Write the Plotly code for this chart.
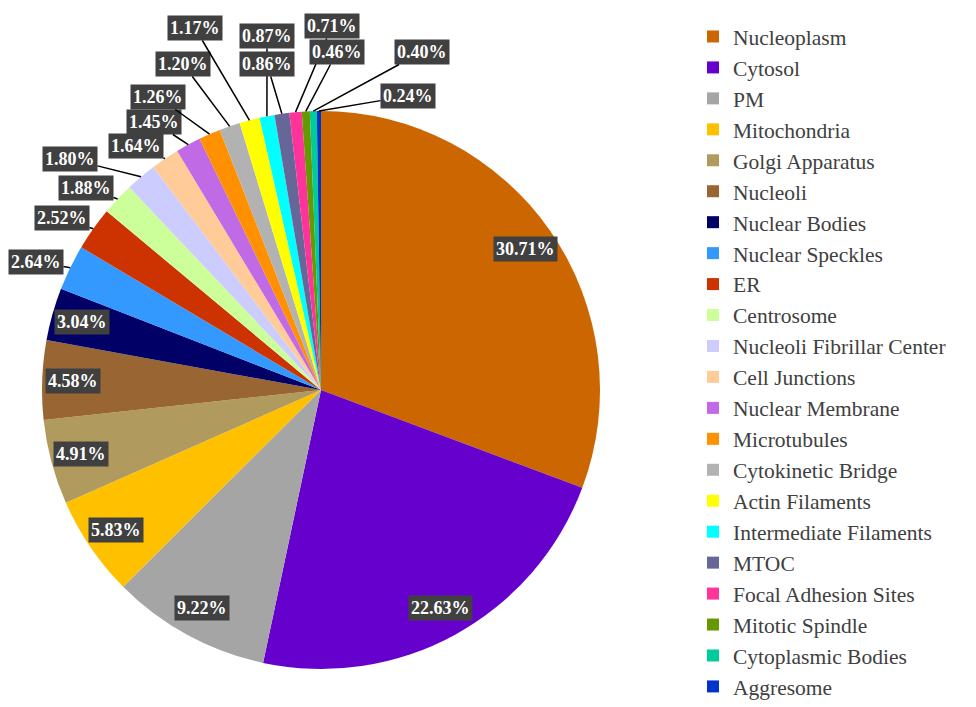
import math
import plotly.graph_objects as go

# Subcellular location categories and their share of proteins (%)
locations = [
    "Nucleoplasm", "Cytosol", "PM", "Mitochondria", "Golgi Apparatus",
    "Nucleoli", "Nuclear Bodies", "Nuclear Speckles", "ER", "Centrosome",
    "Nucleoli Fibrillar Center", "Cell Junctions", "Nuclear Membrane",
    "Microtubules", "Cytokinetic Bridge", "Actin Filaments",
    "Intermediate Filaments", "MTOC", "Focal Adhesion Sites",
    "Mitotic Spindle", "Cytoplasmic Bodies", "Aggresome",
]
shares = [
    30.71, 22.63, 9.22, 5.83, 4.91, 4.58, 3.04, 2.64, 2.52, 1.88,
    1.80, 1.64, 1.45, 1.26, 1.20, 1.17, 0.87, 0.86, 0.71, 0.46, 0.40, 0.24,
]
slice_colors = [
    "#CC6600", "#6600CC", "#A5A5A5", "#FFC000", "#B09A5E",
    "#996633", "#000066", "#3399FF", "#CC3300", "#CCFF99",
    "#CCCCFF", "#FFCC99", "#C06AE6", "#FF9000", "#B2B2B2",
    "#FFFF00", "#00FFFF", "#666699", "#FF3399",
    "#669900", "#00CC99", "#0033CC",
]

# Figure geometry (pixels)
W, H = 976, 707
CX, CY, R = 321, 390, 279
N_INSIDE = 7          # first slices carry their label inside the pie
INSIDE_FRAC = 0.89    # radial position of inside labels

SERIF = "Times New Roman, Liberation Serif, DejaVu Serif, serif"

# Label box centres (pixels) for the slices labelled outside the pie
callout_pos = [
    (36, 262), (62, 218), (86, 188), (70, 159), (136, 146), (154, 122),
    (158, 97), (183, 64), (195, 28), (267, 36), (267, 64), (332, 26),
    (337, 52), (422, 52), (408, 96),
]

fig = go.Figure(
    go.Pie(
        labels=locations,
        values=shares,
        sort=False,
        direction="clockwise",
        rotation=0,
        marker=dict(colors=slice_colors, line=dict(width=0)),
        textinfo="none",
        hoverinfo="label+percent",
        domain=dict(
            x=[(CX - R) / W, (CX + R) / W],
            y=[1 - (CY + R) / H, 1 - (CY - R) / H],
        ),
    )
)


def to_paper(px, py):
    return px / W, 1 - py / H


label_font = dict(family=SERIF, size=18, color="white")
total = sum(shares)
annotations = []
cum = 0.0
for i, v in enumerate(shares):
    mid = (cum + v / 2) / total
    cum += v
    theta = 2 * math.pi * mid
    text = f"<b>{v:.2f}%</b>"
    common = dict(xref="paper", yref="paper", text=text,
                  xanchor="center", yanchor="middle",
                  bgcolor="#404040", font=label_font, borderpad=2)
    if i < N_INSIDE:
        px = CX + INSIDE_FRAC * R * math.sin(theta)
        py = CY - INSIDE_FRAC * R * math.cos(theta)
        x, y = to_paper(px, py)
        annotations.append(dict(x=x, y=y, showarrow=False, **common))
    else:
        tx = CX + R * math.sin(theta)
        ty = CY - R * math.cos(theta)
        lx, ly = callout_pos[i - N_INSIDE]
        x, y = to_paper(tx, ty)
        annotations.append(dict(
            x=x, y=y, showarrow=True, arrowhead=0, arrowwidth=1.5,
            arrowcolor="black", standoff=0, startstandoff=0,
            ax=lx - tx, ay=ly - ty, **common,
        ))

fig.update_layout(
    width=W,
    height=H,
    margin=dict(l=0, r=0, t=0, b=0),
    paper_bgcolor="white",
    plot_bgcolor="white",
    annotations=annotations,
    legend=dict(
        x=693 / W, xanchor="left",
        y=1 - 33 / H, yanchor="top",
        font=dict(family=SERIF, size=21.5, color="#404040"),
        bgcolor="rgba(0,0,0,0)",
        traceorder="normal",
    ),
)

fig.write_html("out.html")
